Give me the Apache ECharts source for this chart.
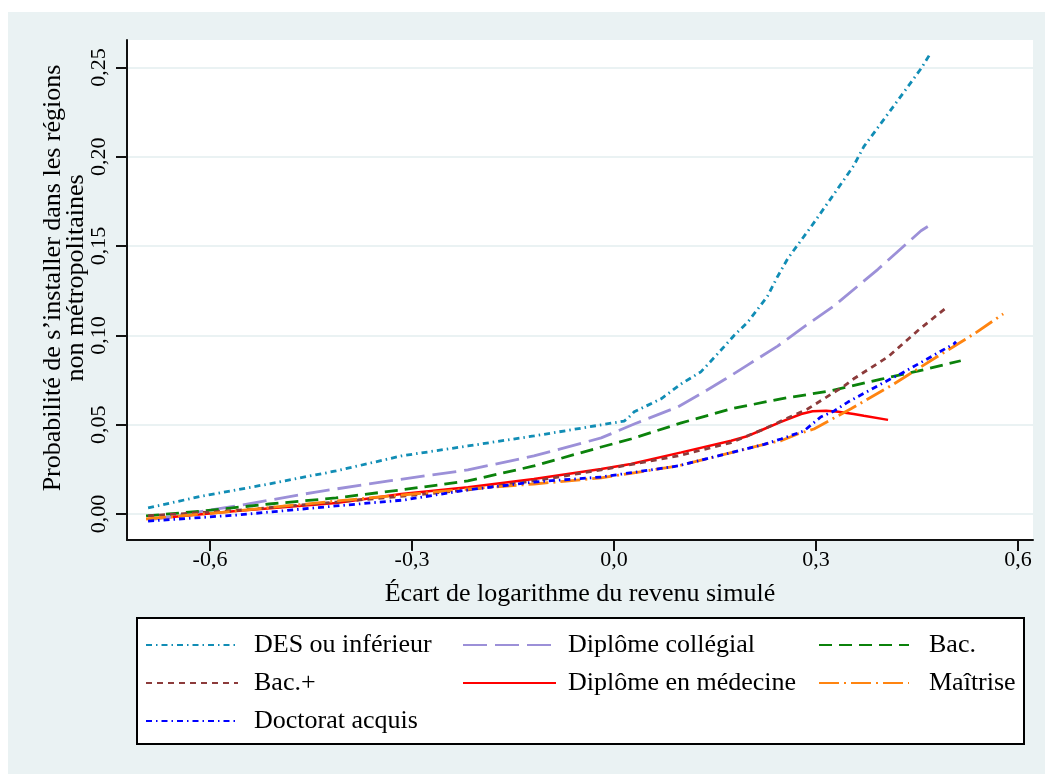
<!DOCTYPE html>
<html><head><meta charset="utf-8">
<script src="https://cdn.jsdelivr.net/npm/echarts@6/dist/echarts.min.js"></script>
<style>
html,body{margin:0;padding:0;background:#fff;}
#bg{position:absolute;left:8px;top:12px;width:1037px;height:762px;background:#EAF2F3;}
#chart{position:absolute;left:0;top:0;width:1045px;height:774px;}
</style></head><body>
<div id="bg"></div><div id="chart"></div>
<script>
const xTicks = [-0.6, -0.3, 0, 0.3, 0.6];
const yTicks = [0, 0.05, 0.10, 0.15, 0.20, 0.25];

const seriesNames = ['DES ou inférieur', 'Diplôme collégial', 'Bac.', 'Bac.+', 'Diplôme en médecine', 'Maîtrise', 'Doctorat acquis'];

const desInferieur = [[-0.692,0.0034],[-0.611,0.0101],[-0.513,0.0168],[-0.413,0.0241],[-0.316,0.0325],[-0.217,0.0381],[-0.119,0.0437],[-0.019,0.0499],[0.015,0.0520],[0.021,0.0538],[0.030,0.0572],[0.070,0.0645],[0.100,0.0729],[0.129,0.0796],[0.154,0.0897],[0.178,0.0998],[0.199,0.1076],[0.214,0.115],[0.228,0.122],[0.243,0.133],[0.258,0.143],[0.293,0.161],[0.322,0.1766],[0.356,0.195],[0.371,0.2057],[0.416,0.2287],[0.456,0.2494],[0.468,0.2567]];
const diplomeCollegial = [[-0.692,-0.0034],[-0.561,0.0045],[-0.443,0.0123],[-0.334,0.0185],[-0.217,0.0247],[-0.119,0.0325],[-0.019,0.0426],[0.030,0.0504],[0.095,0.0600],[0.130,0.0675],[0.166,0.0757],[0.200,0.0838],[0.243,0.0940],[0.278,0.1037],[0.327,0.1166],[0.392,0.1370],[0.456,0.1586],[0.466,0.1610]];
const bac = [[-0.695,-0.0011],[-0.610,0.0017],[-0.512,0.0056],[-0.413,0.0090],[-0.316,0.0135],[-0.217,0.0185],[-0.119,0.0269],[-0.019,0.0375],[0.025,0.0420],[0.100,0.0510],[0.174,0.0589],[0.248,0.0645],[0.322,0.0690],[0.397,0.0755],[0.451,0.0800],[0.515,0.0858]];
const bacPlus = [[-0.692,-0.0010],[-0.561,0.0020],[-0.413,0.0067],[-0.313,0.0100],[-0.217,0.0135],[-0.119,0.0185],[-0.019,0.0247],[0.095,0.0325],[0.174,0.0400],[0.223,0.0476],[0.248,0.0520],[0.288,0.0589],[0.342,0.0717],[0.356,0.0757],[0.407,0.0880],[0.451,0.1026],[0.495,0.1160]];
const diplomeMedecine = [[-0.692,-0.0030],[-0.561,0.0017],[-0.413,0.0062],[-0.316,0.0112],[-0.217,0.0150],[-0.119,0.0196],[-0.019,0.0252],[0.025,0.0280],[0.100,0.0345],[0.174,0.0410],[0.199,0.0437],[0.223,0.0476],[0.248,0.0516],[0.278,0.0560],[0.295,0.0575],[0.315,0.0578],[0.333,0.0572],[0.356,0.0560],[0.371,0.0550],[0.407,0.0527]];
const maitrise = [[-0.695,-0.0028],[-0.561,0.0017],[-0.413,0.0073],[-0.298,0.0112],[-0.217,0.0140],[-0.119,0.0168],[-0.019,0.0202],[0.095,0.0269],[0.149,0.0320],[0.223,0.0390],[0.248,0.0410],[0.273,0.0448],[0.297,0.0476],[0.352,0.0589],[0.416,0.0729],[0.475,0.0869],[0.535,0.1009],[0.578,0.1120]];
const doctoratAcquis = [[-0.692,-0.0040],[-0.561,-0.0006],[-0.413,0.0045],[-0.313,0.0078],[-0.217,0.0135],[-0.119,0.0179],[-0.019,0.0207],[0.095,0.0269],[0.149,0.0320],[0.223,0.0390],[0.248,0.0420],[0.282,0.0465],[0.307,0.0543],[0.327,0.0577],[0.348,0.0628],[0.411,0.0757],[0.426,0.0785],[0.505,0.0953],[0.508,0.0964]];

const seriesData = [desInferieur, diplomeCollegial, bac, bacPlus, diplomeMedecine, maitrise, doctoratAcquis];
const colors = ['#118DB5', '#9C90D8', '#0B820B', '#8C3B3B', '#FF0000', '#FF8410', '#0000FF'];
const dashes = [[6,4,1.5,4], [24,8], [13,7], [6,5], 'solid', [20,5,2,5], [6,4,1.5,4]];

const FONT = "'Liberation Serif', 'Times New Roman', serif";
const chart = echarts.init(document.getElementById('chart'));

function fmt(v, d) { return v.toFixed(d).replace('.', ','); }

const legendCommon = {
  orient: 'vertical', padding: 0, itemGap: 12, itemHeight: 14, z: 10,
  itemStyle: { opacity: 0, borderWidth: 0 },
  textStyle: { fontFamily: FONT, fontSize: 26, color: '#000', lineHeight: 26 },
  selectedMode: false
};

chart.setOption({
  animation: false,
  backgroundColor: 'transparent',
  grid: { left: 127, right: 12, top: 40, bottom: 234, show: true, backgroundColor: '#fff', borderWidth: 0 },
  xAxis: {
    type: 'value', min: -0.7233, max: 0.6223,
    axisLine: { show: true, onZero: false, lineStyle: { color: '#111', width: 2 } },
    axisTick: { show: true, customValues: xTicks, length: 11, lineStyle: { color: '#111', width: 2 } },
    axisLabel: { customValues: xTicks, margin: 9, fontFamily: FONT, fontSize: 22, color: '#000', formatter: v => fmt(v, 1) },
    splitLine: { show: false }
  },
  yAxis: {
    type: 'value', min: -0.01456, max: 0.2654,
    axisLine: { show: true, onZero: false, lineStyle: { color: '#111', width: 2 } },
    axisTick: { show: true, customValues: yTicks, length: 11, lineStyle: { color: '#111', width: 2 } },
    axisLabel: { customValues: yTicks, rotate: 90, margin: 17, fontFamily: FONT, fontSize: 22, color: '#000', formatter: v => fmt(v, 2) },
    splitLine: { show: true, lineStyle: { color: '#EAF2F3', width: 2 } }
  },
  legend: [
    Object.assign({}, legendCommon, { left: 145, top: 632, itemWidth: 92, data: [seriesNames[0], seriesNames[3], seriesNames[6]], textStyle: Object.assign({}, legendCommon.textStyle, { padding: [0,0,0,11] }) }),
    Object.assign({}, legendCommon, { left: 462, top: 632, itemWidth: 93, data: [seriesNames[1], seriesNames[4]], textStyle: Object.assign({}, legendCommon.textStyle, { padding: [0,0,0,7] }) }),
    Object.assign({}, legendCommon, { left: 818, top: 632, itemWidth: 90, data: [seriesNames[2], seriesNames[5]], textStyle: Object.assign({}, legendCommon.textStyle, { padding: [0,0,0,15] }) })
  ],
  graphic: [
    { type: 'rect', z: 1, shape: { x: 137, y: 618, width: 887, height: 126 }, style: { fill: '#fff', stroke: '#000', lineWidth: 2 } },
    { type: 'text', z: 5, x: 580, y: 594, style: { text: 'Écart de logarithme du revenu simulé', font: "26px 'Liberation Serif', serif", fill: '#000', align: 'center', verticalAlign: 'middle' } },
    { type: 'text', z: 5, x: 65, y: 278, rotation: Math.PI / 2, style: { text: 'Probabilité de s’installer dans les régions\nnon métropolitaines', font: "26px 'Liberation Serif', serif", lineHeight: 23, fill: '#000', align: 'center', verticalAlign: 'middle' } }
  ],
  series: seriesData.map((d, i) => ({
    name: seriesNames[i], type: 'line', data: d, showSymbol: false, symbol: 'none',
    lineStyle: { color: colors[i], width: i === 4 ? 2.5 : 2.8, type: dashes[i] },
    itemStyle: { color: colors[i] },
    z: 3 + (i === 4 ? 0 : 1)
  }))
});
</script>
</body></html>
